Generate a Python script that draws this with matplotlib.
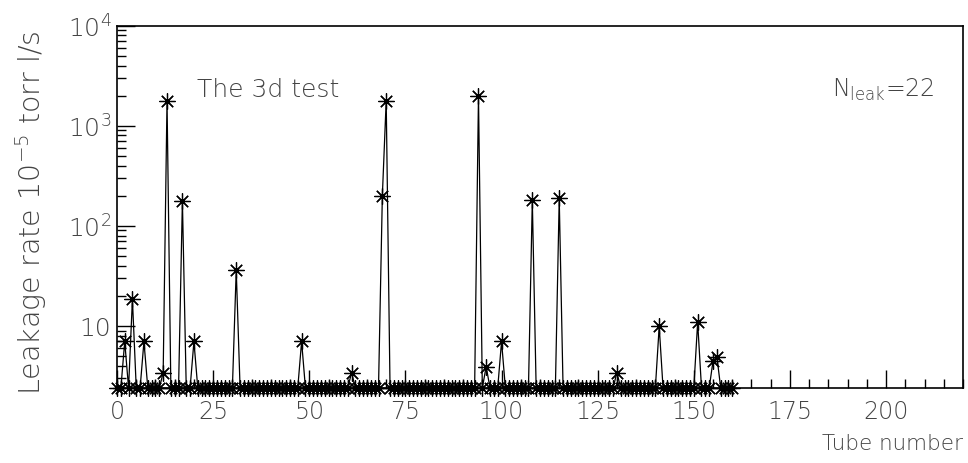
import numpy as np
import matplotlib
matplotlib.use("Agg")
import matplotlib.pyplot as plt
from matplotlib.ticker import MultipleLocator, LogLocator, NullFormatter

plt.rcParams['font.family'] = ['DejaVu Sans']
plt.rcParams['font.weight'] = 'light'
plt.rcParams['axes.labelweight'] = 'light'
plt.rcParams['mathtext.default'] = 'regular'

# tubes tested, 0..160
n_tubes = 161
# tubes found leaking and their rate (10^-5 torr l/s)
leak_tubes = [2, 4, 7, 12, 13, 17, 20, 31, 48, 61, 69, 70,
              94, 96, 100, 108, 115, 130, 141, 151, 155, 156]
leak_rates = [7.0, 18.5, 7.0, 3.42, 1780, 178, 7.0, 36.3, 7.0, 3.42, 200, 1780,
              1980, 3.93, 7.0, 180, 188, 3.42, 9.9, 10.9, 4.47, 4.93]
floor = 2.4  # tight tubes sit on the lower edge of the log axis

ytick_vals = [10, 100, 1000, 10000]
ytick_labels = ['10', '$10^{2}$', '$10^{3}$', '$10^{4}$']

tubes = np.arange(n_tubes)
rate = np.full(n_tubes, floor)
rate[leak_tubes] = leak_rates

txt = '#444444'
fig = plt.figure(figsize=(9.68, 4.64), dpi=100)
ax = fig.add_axes([0.1209, 0.1616, 0.9948 - 0.1209, 0.9425 - 0.1616])

ax.plot(tubes, rate, color='black', lw=0.9, marker=(8, 2, 0), ms=11.5,
        mew=0.9, clip_on=False, zorder=3)

ax.set_yscale('log')
ax.set_ylim(floor, 1e4)
ax.set_xlim(0, 220)

ax.xaxis.set_major_locator(MultipleLocator(25))
ax.xaxis.set_minor_locator(MultipleLocator(5))
ax.set_xticks([0, 25, 50, 75, 100, 125, 150, 175, 200])
ax.set_yticks(ytick_vals)
ax.set_yticklabels(ytick_labels)
ax.yaxis.set_minor_locator(LogLocator(base=10, subs=np.arange(2, 10)))
ax.yaxis.set_minor_formatter(NullFormatter())

ax.tick_params(which='both', direction='in', top=False, right=False,
               labelcolor=txt, width=1)
ax.tick_params(which='major', length=13)
ax.tick_params(which='minor', length=6.5)
ax.tick_params(axis='x', which='major', labelsize=17, pad=8)
ax.tick_params(axis='y', which='major', labelsize=18, pad=4)
for s in ax.spines.values():
    s.set_linewidth(1.2)

ax.set_xlabel('Tube number', fontsize=15.5, color=txt, loc='right', labelpad=7)
ax.set_ylabel('Leakage rate 10$^{-5}$ torr l/s', fontsize=20.5, color=txt, loc='top')
ax.yaxis.set_label_coords(-0.080, 0.99)

ax.text(0.0946, 0.807, 'The 3d test', transform=ax.transAxes, fontsize=18,
        color=txt, va='baseline')
ax.text(0.967, 0.807, 'N$_{leak}$=22', transform=ax.transAxes, fontsize=17,
        color=txt, ha='right', va='baseline')

fig.savefig('out.png', dpi=100)
